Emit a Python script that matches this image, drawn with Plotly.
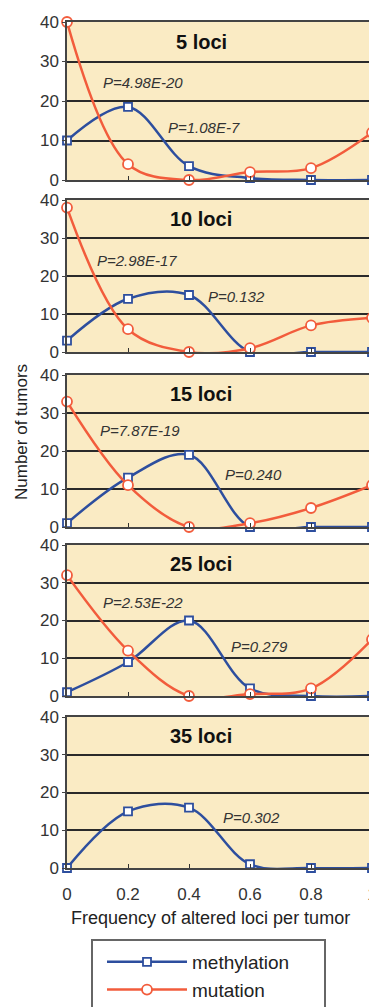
import plotly.graph_objects as go

x_vals = [0, 0.2, 0.4, 0.6, 0.8, 1.0]
x_tick_labels = ["0", "0.2", "0.4", "0.6", "0.8", "1"]
panel_titles = ["5 loci", "10 loci", "15 loci", "25 loci", "35 loci"]

meth_5 = [10, 18.5, 3.5, 0.5, 0, 0]
meth_10 = [3, 14, 15, 0, 0, 0]
meth_15 = [1, 13, 19, 0, 0, 0]
meth_25 = [1, 9, 20, 2, 0, 0]
meth_35 = [0, 15, 16, 1, 0, 0]

mut_5 = [40, 4, 0, 2, 3, 12]
mut_10 = [38, 6, 0, 1, 7, 9]
mut_15 = [33, 11, 0, 1, 5, 11]
mut_25 = [32, 12, 0, 0.5, 2, 15]
mut_35 = None

p_mut = ["P=4.98E-20", "P=2.98E-17", "P=7.87E-19", "P=2.53E-22", None]
p_meth = ["P=1.08E-7", "P=0.132", "P=0.240", "P=0.279", "P=0.302"]
p_mut_pos = [(0.25, 24.6), (0.23, 24.2), (0.24, 25.5), (0.25, 24.9), None]
p_meth_pos = [(0.45, 13.2), (0.555, 14.5), (0.61, 13.7), (0.63, 13.0), (0.605, 13.5)]

meth_series = [meth_5, meth_10, meth_15, meth_25, meth_35]
mut_series = [mut_5, mut_10, mut_15, mut_25, mut_35]

# page body margin offset (default 8px)
OFF = 8
SW, SH = 377, 1007          # screen size
W, H = SW - OFF, SH - OFF   # figure size
L = 67 - OFF                # left margin (figure px)
R = W - (372 - OFF)         # right margin
PW = W - L - R              # plot width

# screen pixel top/bottom of each panel's plot area
panel_px = [(22, 180), (200, 352), (375, 527), (545, 696), (717, 868)]


def py(s):  # screen y -> paper y
    return 1 - (s - OFF) / H


def px(s):  # screen x -> paper x
    return ((s - OFF) - L) / PW


BLUE = "#2D4E9E"
RED = "#F25C3C"
BG = "#FAEBC4"
FONT = "Liberation Sans, Arial, sans-serif"

fig = go.Figure()
layout = dict(
    width=W, height=H,
    margin=dict(l=L, r=R, t=0, b=0, autoexpand=False),
    paper_bgcolor="white",
    plot_bgcolor=BG,
    showlegend=True,
    font=dict(family=FONT, color="#333333"),
)

annotations = []
shapes = []
for i in range(5):
    n = i + 1
    xa = "x" if n == 1 else f"x{n}"
    ya = "y" if n == 1 else f"y{n}"
    top, bot = panel_px[i]
    dom = [py(bot), py(top)]
    layout[f"xaxis{'' if n == 1 else n}"] = dict(
        domain=[0, 1], range=[0, 1], anchor=ya, automargin=False,
        tickvals=x_vals, ticktext=x_tick_labels,
        showticklabels=(n == 5), ticks="inside", ticklen=4, tickcolor="#333",
        ticklabelstandoff=10, ticklabeloverflow="allow",
        showgrid=False, zeroline=False,
        showline=True, linecolor="#444444", linewidth=1.5, mirror=True,
        tickfont=dict(size=17, family=FONT, color="#333"),
    )
    layout[f"yaxis{'' if n == 1 else n}"] = dict(
        domain=dom, range=[0, 40], anchor=xa, automargin=False,
        tickvals=[0, 10, 20, 30, 40], ticks="outside", ticklen=3, tickcolor="#444",
        showgrid=True, gridcolor="#2a2a2a", gridwidth=1.7,
        zeroline=False,
        showline=True, linecolor="#444444", linewidth=1.5, mirror=True,
        tickfont=dict(size=17, family=FONT, color="#333"),
    )
    fig.add_trace(go.Scatter(
        x=x_vals, y=meth_series[i], xaxis=xa, yaxis=ya,
        mode="lines+markers", name="methylation", showlegend=(n == 1),
        line=dict(color=BLUE, width=2.5, shape="spline", smoothing=1.0),
        marker=dict(symbol="square", size=8, color="white",
                    line=dict(color=BLUE, width=1.8)),
        cliponaxis=False,
    ))
    if mut_series[i] is not None:
        fig.add_trace(go.Scatter(
            x=x_vals, y=mut_series[i], xaxis=xa, yaxis=ya,
            mode="lines+markers", name="mutation", showlegend=(n == 1),
            line=dict(color=RED, width=2.5, shape="spline", smoothing=1.0),
            marker=dict(symbol="circle", size=10, color="white",
                        line=dict(color=RED, width=1.8)),
            cliponaxis=False,
        ))
    annotations.append(dict(
        x=0.44, y=35, xref=xa, yref=ya, text=f"<b>{panel_titles[i]}</b>",
        showarrow=False, font=dict(size=20, family=FONT, color="#111"),
    ))
    if p_mut[i] is not None:
        ax_, ay_ = p_mut_pos[i]
        annotations.append(dict(
            x=ax_, y=ay_, xref=xa, yref=ya, text=f"<i>{p_mut[i]}</i>",
            showarrow=False, font=dict(size=15, family=FONT, color="#333"),
        ))
    ax_, ay_ = p_meth_pos[i]
    annotations.append(dict(
        x=ax_, y=ay_, xref=xa, yref=ya, text=f"<i>{p_meth[i]}</i>",
        showarrow=False, font=dict(size=15, family=FONT, color="#333"),
    ))

annotations.append(dict(
    x=px(21), y=py(432), xref="paper", yref="paper",
    xanchor="center", yanchor="middle",
    text="Number of tumors", textangle=-90, showarrow=False,
    font=dict(size=17, family=FONT, color="#222"),
))
annotations.append(dict(
    x=px(210), y=py(918), xref="paper", yref="paper",
    xanchor="center", yanchor="middle",
    text="Frequency of altered loci per tumor", showarrow=False,
    font=dict(size=18, family=FONT, color="#222"),
))
layout["annotations"] = annotations

# legend box
shapes.append(dict(
    type="rect", xref="paper", yref="paper",
    x0=px(92), x1=px(325), y0=py(1030), y1=py(940),
    line=dict(color="#666666", width=2), fillcolor="rgba(0,0,0,0)",
))
layout["shapes"] = shapes

layout["legend"] = dict(
    x=px(102), y=py(943), xanchor="left", yanchor="top",
    bgcolor="rgba(0,0,0,0)", borderwidth=0,
    font=dict(size=19, family=FONT, color="#222"),
    itemwidth=80, tracegroupgap=0,
)

fig.update_layout(**layout)
fig.write_html("out.html")
